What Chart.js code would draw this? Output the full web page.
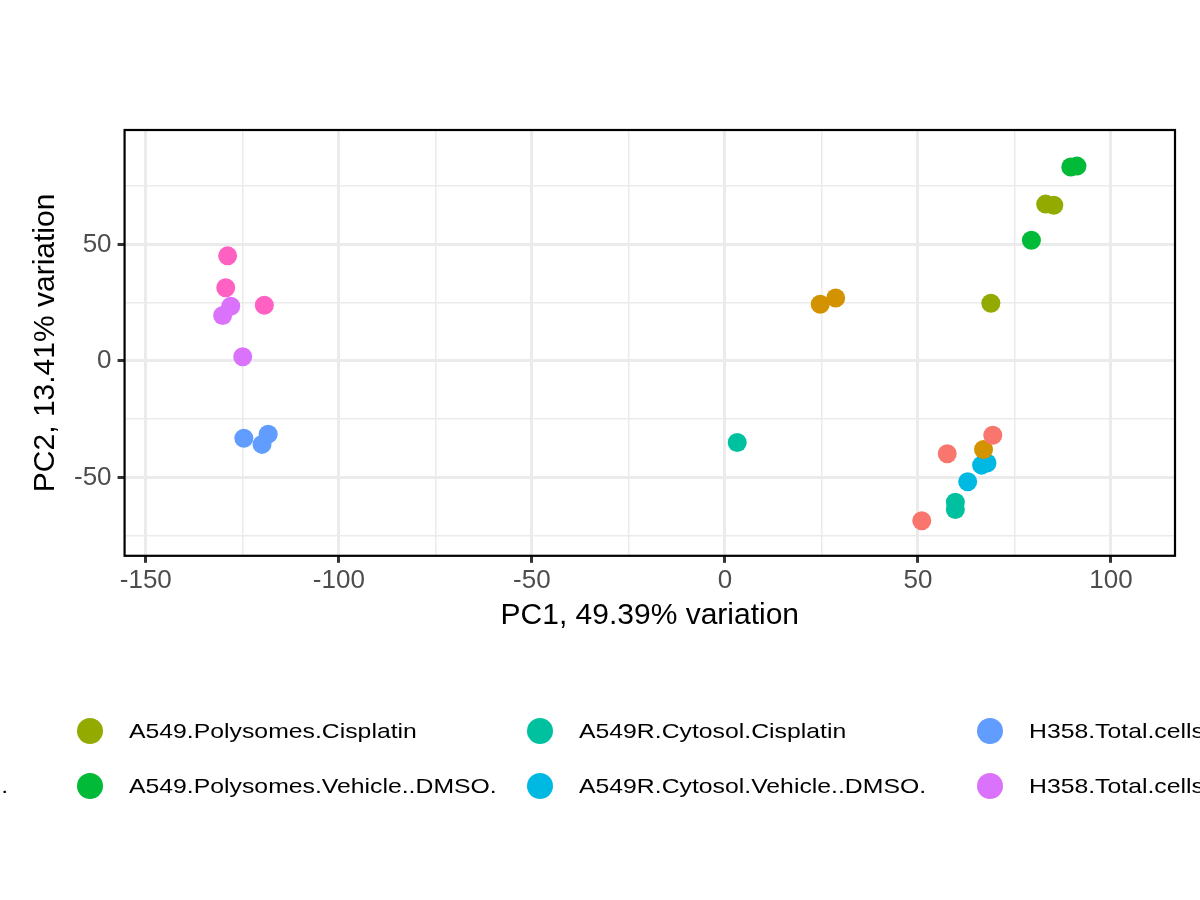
<!DOCTYPE html>
<html>
<head>
<meta charset="utf-8">
<script src="https://cdn.jsdelivr.net/npm/chart.js@4"></script>
<style>
  body { margin: 0; background: #fff; overflow: hidden; }
  #wrap { position: relative; width: 1200px; height: 900px; }
  #legend { position: absolute; top: 712px; left: 0; width: 1200px; height: 100px; font-family: "Liberation Sans", Arial, sans-serif; font-size: 21px; color: #000; }
  .item { position: absolute; white-space: nowrap; display: flex; align-items: center; }
  .dot { width: 26px; height: 26px; border-radius: 50%; margin-right: 26px; flex: none; }
  .txt { display: inline-block; transform: scaleX(1.18); transform-origin: left center; }
</style>
</head>
<body>
<div id="wrap">
  <canvas id="pca" width="1200" height="900"></canvas>
  <div id="legend"></div>
</div>
<script>
// groups, in legend order
const groups = [
  'A549.Cytosol.Cisplatin', 'A549.Cytosol.Vehicle..DMSO.',
  'A549.Polysomes.Cisplatin', 'A549.Polysomes.Vehicle..DMSO.',
  'A549R.Cytosol.Cisplatin', 'A549R.Cytosol.Vehicle..DMSO.',
  'H358.Total.cells.Cisplatin', 'H358.Total.cells.Control',
  'H358.Total.cells.Vehicle..DMSO.'
];
const colors = ['#F8766D', '#D39200', '#93AA00', '#00BA38', '#00C19F', '#00B9E3', '#619CFF', '#DB72FB', '#FF61C3'];

// PC1 / PC2 per group
const pc1 = [
  [51.0, 57.6, 69.4],
  [24.7, 28.7, 67.0],
  [68.9, 83.1, 85.2],
  [79.4, 89.6, 91.2],
  [3.2, 59.7, 59.7],
  [62.9, 66.5, 67.9],
  [-124.6, -119.9, -118.3],
  [-128.0, -130.1, -124.9],
  [-128.8, -129.3, -119.3]
];
const pc2 = [
  [-68.6, -39.8, -31.9],
  [24.3, 27.0, -38.0],
  [24.8, 67.3, 66.8],
  [51.8, 83.2, 83.6],
  [-35.0, -60.6, -63.7],
  [-51.8, -44.7, -43.8],
  [-33.2, -35.8, -31.4],
  [23.5, 19.5, 1.8],
  [45.1, 31.4, 23.9]
];

const xTicks = [-150, -100, -50, 0, 50, 100];
const yTicks = [-50, 0, 50];

const datasets = groups.map((g, i) => ({
  label: g,
  data: pc1[i].map((x, j) => ({ x: x, y: pc2[i][j] })),
  backgroundColor: colors[i],
  borderWidth: 0,
  pointRadius: 9.5
}));

const frame = {
  id: 'frame',
  afterDraw(chart) {
    const a = chart.chartArea, ctx = chart.ctx;
    ctx.save();
    ctx.strokeStyle = '#000';
    ctx.lineWidth = 2.2;
    ctx.strokeRect(a.left, a.top, a.right - a.left, a.bottom - a.top);
    ctx.restore();
  }
};

const grid = {
  color: '#ebebeb',
  lineWidth: c => (c.tick && c.tick.value % 50 === 0 ? 3 : 1.5),
  tickColor: c => (c.tick && c.tick.value % 50 === 0 ? '#333' : 'rgba(0,0,0,0)'),
  tickLength: 7,
  drawTicks: true
};
const tickFont = { family: 'Liberation Sans, Arial', size: 26 };
const titleFont = { family: 'Liberation Sans, Arial', size: 30 };

new Chart(document.getElementById('pca'), {
  type: 'scatter',
  data: { datasets: datasets },
  options: {
    responsive: false,
    animation: false,
    layout: { padding: { left: 24, right: 25, top: 130, bottom: 262 } },
    plugins: { legend: { display: false }, tooltip: { enabled: false } },
    scales: {
      x: {
        min: -155.5, max: 116.6,
        grid: grid,
        border: { display: false },
        afterBuildTicks: s => { s.ticks = [-150, -125, -100, -75, -50, -25, 0, 25, 50, 75, 100].map(v => ({ value: v })); },
        ticks: { color: '#4d4d4d', font: tickFont, padding: 2, callback: v => (xTicks.includes(v) ? v : '') },
        title: { display: true, text: 'PC1, 49.39% variation', color: '#000', font: titleFont, padding: { top: 0 } }
      },
      y: {
        min: -83.6, max: 99.1,
        grid: grid,
        border: { display: false },
        afterBuildTicks: s => { s.ticks = [-75, -50, -25, 0, 25, 50, 75].map(v => ({ value: v })); },
        ticks: { color: '#4d4d4d', font: tickFont, padding: 6, callback: v => (yTicks.includes(v) ? v : '') },
        title: { display: true, text: 'PC2, 13.41% variation', color: '#000', font: titleFont, padding: { bottom: 4 } }
      }
    }
  },
  plugins: [frame]
});

// legend: 5 columns x 2 rows, wider than the page so the outer columns are cut off
const legend = document.getElementById('legend');
groups.forEach((g, i) => {
  const col = Math.floor(i / 2), row = i % 2;
  const el = document.createElement('div');
  el.className = 'item';
  el.style.left = (-373 + col * 450) + 'px';
  el.style.top = (row * 55 + 6) + 'px';
  el.innerHTML = '<span class="dot" style="background:' + colors[i] + '"></span><span class="txt">' + g + '</span>';
  legend.appendChild(el);
});
</script>
</body>
</html>
